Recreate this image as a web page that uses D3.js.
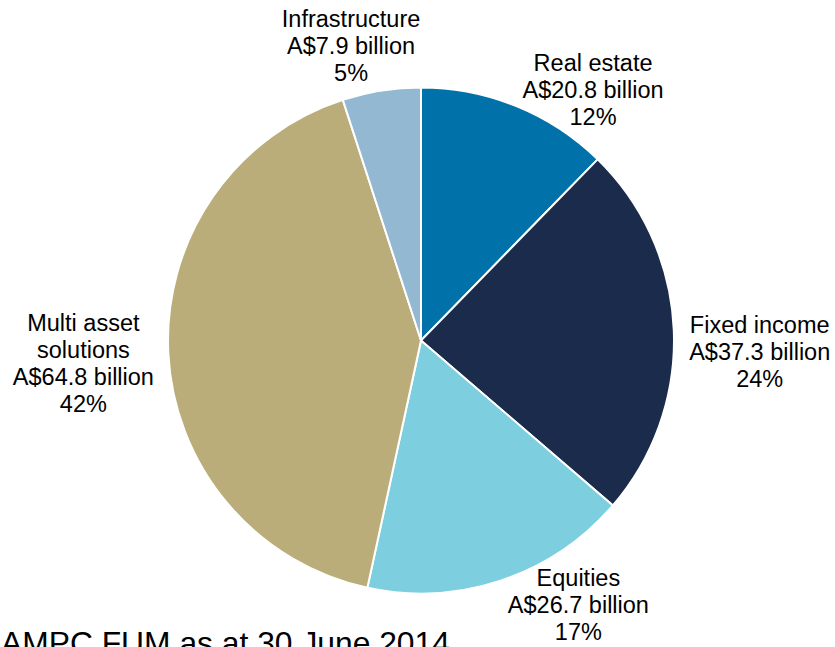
<!doctype html>
<html lang="en">
<head>
<meta charset="utf-8">
<script src="https://d3js.org/d3.v7.min.js"></script>
<title>AMPC FUM</title>
<style>
  html, body { margin: 0; padding: 0; background: #fff; overflow: hidden; }
  svg { display: block; font-family: "Liberation Sans", Arial, sans-serif; }
  .lbl { font-size: 23.5px; fill: #000; }
  #title { font-size: 31.8px; fill: #000; }
</style>
</head>
<body>
<div id="chart"></div>
<script>
// asset classes, clockwise from 12 o'clock
const categories = ['Real estate', 'Fixed income', 'Equities', 'Multi asset solutions', 'Infrastructure'];
const funds = [20.8, 37.3, 26.7, 64.8, 7.9];          // A$ billion
const shares = ['12%', '24%', '17%', '42%', '5%'];
// slice sizes as drawn in the picture (percent of FUM)
const sliceShare = [12.3, 24.0, 17.1, 41.6, 5.0];
const labelLines = [
  ['Real estate'],
  ['Fixed income'],
  ['Equities'],
  ['Multi asset', 'solutions'],
  ['Infrastructure']
];
const colors = ['#0071a9', '#1a2b4b', '#7dcfe0', '#baad79', '#93b8d1'];

const width = 835, height = 647;
const cx = 421, cy = 340.5, R = 253;

// label block nudges relative to the slice mid-angle point at radius 300
const nudge = {
  'Real estate': [59, 27],
  'Fixed income': [39, 25],
  'Equities': [62, -20],
  'Multi asset solutions': [-38, 8],
  'Infrastructure': [-23, 2]
};

const svg = d3.select('#chart').append('svg')
  .attr('width', width)
  .attr('height', height);

const data = categories.map((c, i) => ({ name: c, value: funds[i], slice: sliceShare[i], share: shares[i], lines: labelLines[i], color: colors[i] }));

const pie = d3.pie().sort(null).value(d => d.slice);
const arc = d3.arc().innerRadius(0).outerRadius(R);
const labelArc = d3.arc().innerRadius(300).outerRadius(300);

const g = svg.append('g').attr('transform', 'translate(' + cx + ',' + cy + ')');
const arcs = pie(data);

g.selectAll('path')
  .data(arcs)
  .enter()
  .append('path')
  .attr('d', arc)
  .attr('fill', d => d.data.color)
  .attr('stroke', '#fff')
  .attr('stroke-width', 2)
  .attr('stroke-linejoin', 'miter');

const lineH = 27;
g.selectAll('text.lbl')
  .data(arcs)
  .enter()
  .append('text')
  .attr('class', 'lbl')
  .attr('text-anchor', 'middle')
  .each(function(d) {
    const p = labelArc.centroid(d);
    const n = nudge[d.data.name];
    const x = p[0] + n[0], y = p[1] + n[1];
    const lines = d.data.lines.concat(['A$' + d.data.value.toFixed(1) + ' billion', d.data.share]);
    const top = y - (lines.length - 1) / 2 * lineH + 8;
    const t = d3.select(this);
    lines.forEach((s, i) => {
      t.append('tspan').attr('x', x).attr('y', top + i * lineH).text(s);
    });
  });

svg.append('text')
  .attr('id', 'title')
  .attr('x', 1)
  .attr('y', 654)
  .text('AMPC FUM as at 30 June 2014');
</script>
</body>
</html>
